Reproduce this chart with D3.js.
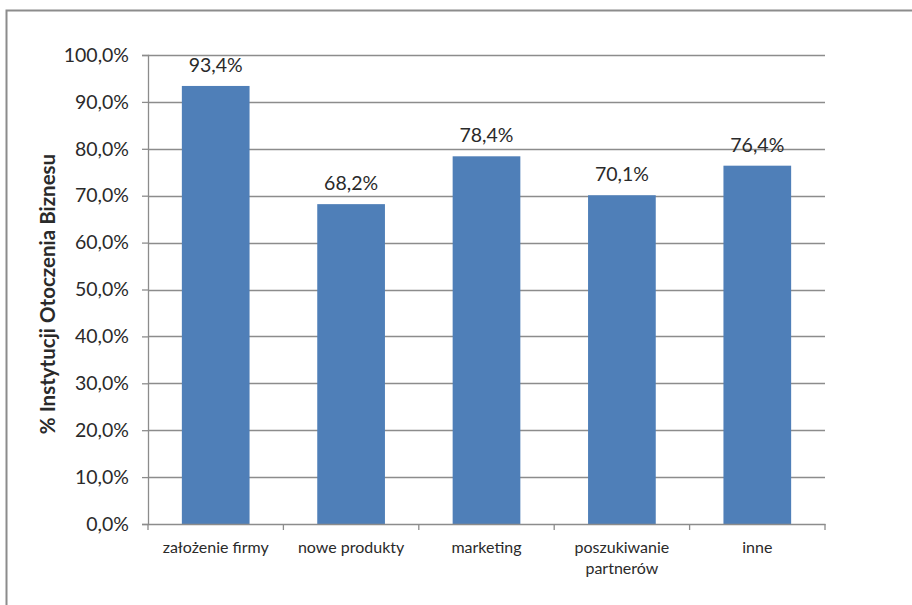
<!DOCTYPE html>
<html>
<head>
<meta charset="utf-8">
<script src="https://cdn.jsdelivr.net/npm/d3@7"></script>
<style>
  body { margin: 0; background: #fff; }
  text { font-family: Lato, "Open Sans", sans-serif; fill: #2a2a2a; }
</style>
</head>
<body>
<div id="chart"></div>
<script>
// data
const categories = ["założenie firmy", "nowe produkty", "marketing", "poszukiwanie partnerów", "inne"];
const values = [93.4, 68.2, 78.4, 70.1, 76.4];
const yTicks = [0, 10, 20, 30, 40, 50, 60, 70, 80, 90, 100];
const yTitle = "% Instytucji Otoczenia Biznesu";

// dimensions
var W = 912, H = 605;
var margin = {top: 55, right: 87, bottom: 81, left: 148},
    width = W - margin.left - margin.right,
    height = H - margin.top - margin.bottom;

var svg = d3.select("#chart").append("svg")
    .attr("width", W).attr("height", H);

// outer frame
svg.append("rect")
    .attr("x", 6.5).attr("y", 10.5)
    .attr("width", W + 20).attr("height", H + 20)
    .attr("fill", "none")
    .attr("stroke", "#8c8c8c")
    .attr("stroke-width", 2);

var g = svg.append("g")
    .attr("transform", "translate(" + margin.left + "," + margin.top + ")");

var x = d3.scaleBand().domain(categories).range([0, width]).paddingInner(0.5).paddingOuter(0.25);
var xb = d3.scaleBand().domain(categories).range([0, width]);
var y = d3.scaleLinear().domain([0, 100]).range([height, 0]);

var fmt = v => v.toFixed(1).replace(".", ",") + "%";

// gridlines
g.selectAll(".grid").data(yTicks.slice(1)).enter().append("line")
    .attr("x1", 0).attr("x2", width)
    .attr("y1", d => Math.round(y(d)) + 0.5).attr("y2", d => Math.round(y(d)) + 0.5)
    .attr("stroke", "#8c8c8c").attr("stroke-width", 1.3);

// bars
g.selectAll(".bar").data(values).enter().append("rect")
    .attr("x", (d, i) => x(categories[i]))
    .attr("width", x.bandwidth())
    .attr("y", d => y(d))
    .attr("height", d => height - y(d))
    .attr("fill", "#4f7fb8");

// value labels
g.selectAll(".val").data(values).enter().append("text")
    .attr("x", (d, i) => x(categories[i]) + x.bandwidth() / 2)
    .attr("y", d => y(d) - 14)
    .attr("text-anchor", "middle")
    .style("font-size", "19.5px")
    .text(d => fmt(d));

// y axis
var yAxis = g.append("g")
    .call(d3.axisLeft(y).tickValues(yTicks).tickFormat(d => d.toFixed(1).replace(".", ",") + "%").tickSize(6).tickPadding(13));
yAxis.selectAll("text").style("font-size", "19.5px").attr("fill", "#2a2a2a");
yAxis.selectAll("line, path").attr("stroke", "#8c8c8c").attr("stroke-width", 1.3);

// x axis
var xAxis = g.append("g")
    .attr("transform", "translate(0," + height + ")")
    .call(d3.axisBottom(xb).tickSize(0).tickFormat(""));
xAxis.select("path").attr("stroke", "#8c8c8c").attr("stroke-width", 1.3);
g.selectAll(".xtick").data(d3.range(categories.length + 1)).enter().append("line")
    .attr("x1", i => i * xb.step()).attr("x2", i => i * xb.step())
    .attr("y1", height).attr("y2", height + 6)
    .attr("stroke", "#8c8c8c").attr("stroke-width", 1.3);

// x labels (wrapped)
var wrap = { "poszukiwanie partnerów": ["poszukiwanie", "partnerów"] };
categories.forEach(function (c) {
    var lines = wrap[c] || [c];
    var t = g.append("text")
        .attr("x", xb(c) + xb.bandwidth() / 2)
        .attr("y", height + 29)
        .attr("text-anchor", "middle")
        .style("font-size", "16px");
    lines.forEach(function (l, i) {
        t.append("tspan").attr("x", xb(c) + xb.bandwidth() / 2).attr("dy", i ? 21 : 0).text(l);
    });
});

// y title
svg.append("text")
    .attr("transform", "translate(55," + 294 + ") rotate(-90)")
    .attr("text-anchor", "middle")
    .style("font-size", "20.5px")
    .style("font-weight", "bold")
    .text(yTitle);
</script>
</body>
</html>
